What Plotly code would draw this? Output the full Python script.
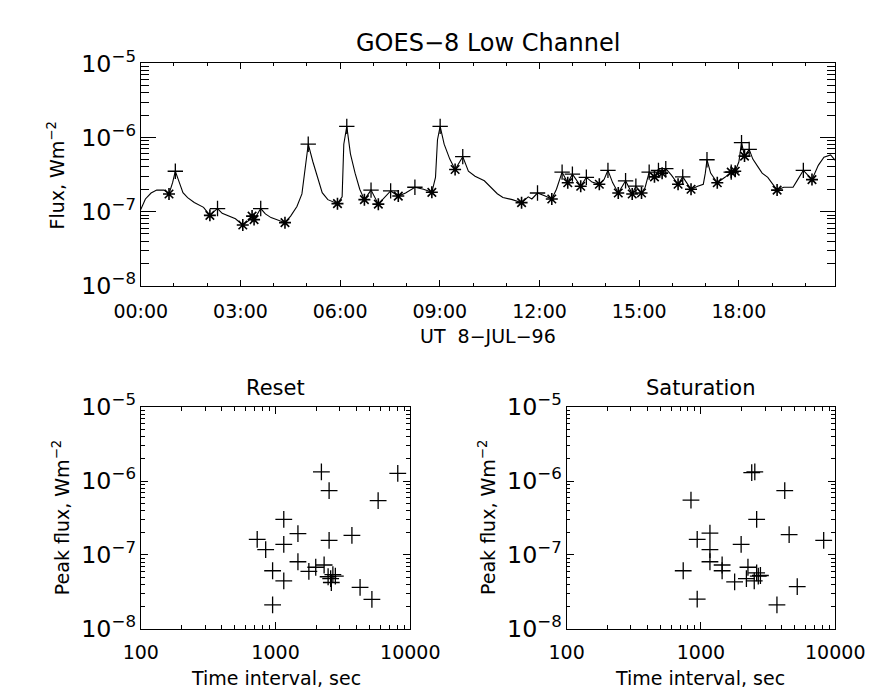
import pandas as pd
import plotly.graph_objects as go

# GOES-8 low channel light curve, 8-JUL-96 (hours UT, flux W m^-2)
curve_hours = [0.00, 0.14, 0.31, 0.48, 0.70, 0.85, 0.96, 1.04, 1.13, 1.27, 1.41, 1.61, 1.89, 2.08,
               2.20, 2.31, 2.45, 2.65, 2.85, 3.07, 3.24, 3.35, 3.41, 3.61, 3.75, 3.92, 4.08, 4.34,
               4.51, 4.70, 4.85, 4.93, 5.04, 5.18, 5.32, 5.46, 5.63, 5.92, 6.06, 6.11, 6.20, 6.31,
               6.45, 6.59, 6.73, 6.93, 7.15, 7.35, 7.52, 7.75, 7.97, 8.25, 8.51, 8.76, 8.87, 8.93,
               9.01, 9.13, 9.30, 9.46, 9.61, 9.69, 9.86, 10.06, 10.34, 10.54, 10.73, 10.90, 11.18,
               11.46, 11.66, 11.77, 11.94, 12.17, 12.37, 12.51, 12.68, 12.85, 12.99, 13.24, 13.41,
               13.58, 13.80, 13.94, 14.06, 14.20, 14.37, 14.59, 14.79, 14.90, 15.07, 15.18, 15.30,
               15.46, 15.58, 15.69, 15.80, 15.97, 16.17, 16.31, 16.56, 16.76, 16.93, 16.99, 17.04,
               17.15, 17.35, 17.58, 17.77, 17.89, 18.00, 18.08, 18.17, 18.31, 18.42, 18.56, 18.70,
               18.87, 19.01, 19.15, 19.35, 19.63, 19.77, 19.94, 20.20, 20.39, 20.56, 20.76, 20.90]
curve_flux = [1.07e-7, 1.48e-7, 1.78e-7, 1.95e-7, 1.95e-7, 1.73e-7, 2.47e-7, 3.5e-7, 2.7e-7, 1.8e-7,
              1.54e-7, 1.33e-7, 1.14e-7, 8.9e-8, 1.0e-7, 1.1e-7, 9.5e-8, 8.7e-8, 8.0e-8, 6.6e-8,
              7.5e-8, 8.7e-8, 7.8e-8, 1.1e-7, 9.3e-8, 8.3e-8, 7.8e-8, 7.1e-8, 8.7e-8, 1.17e-7,
              1.73e-7, 3.3e-7, 8.1e-7, 4.7e-7, 2.9e-7, 1.8e-7, 1.45e-7, 1.28e-7, 1.58e-7, 8.1e-7,
              1.41e-6, 6.0e-7, 3.3e-7, 2.0e-7, 1.45e-7, 1.95e-7, 1.26e-7, 1.58e-7, 1.9e-7, 1.62e-7,
              1.78e-7, 2.13e-7, 2.0e-7, 1.82e-7, 2.9e-7, 9.3e-7, 1.41e-6, 8.1e-7, 5.1e-7, 3.7e-7,
              4.7e-7, 5.5e-7, 3.5e-7, 3.0e-7, 2.6e-7, 2.1e-7, 1.74e-7, 1.55e-7, 1.45e-7, 1.32e-7,
              1.58e-7, 1.48e-7, 1.78e-7, 1.62e-7, 1.48e-7, 2.0e-7, 3.4e-7, 2.45e-7, 3.2e-7, 2.2e-7,
              2.9e-7, 2.5e-7, 2.34e-7, 2.7e-7, 3.6e-7, 2.46e-7, 1.78e-7, 2.6e-7, 1.73e-7, 2.2e-7,
              1.78e-7, 2.13e-7, 3.4e-7, 2.94e-7, 3.6e-7, 3.3e-7, 3.8e-7, 3.1e-7, 2.34e-7, 2.94e-7,
              2.0e-7, 2.2e-7, 2.34e-7, 3.3e-7, 5.0e-7, 3.3e-7, 2.45e-7, 2.9e-7, 3.4e-7, 3.5e-7,
              4.7e-7, 8.5e-7, 5.6e-7, 6.9e-7, 5.1e-7, 4.1e-7, 3.3e-7, 2.9e-7, 2.34e-7, 1.95e-7,
              2.13e-7, 2.13e-7, 2.7e-7, 3.6e-7, 2.7e-7, 4.2e-7, 5.4e-7, 5.8e-7, 4.9e-7]

# flare peaks (+) and flare starts (*)
peak_hours = [1.04, 2.31, 3.61, 5.04, 6.20, 6.93, 7.52, 8.25, 9.01, 9.69, 11.94, 12.68, 12.99, 13.41,
              14.06, 14.59, 14.90, 15.30, 15.58, 15.80, 16.31, 17.04, 17.77, 18.08, 18.31, 19.94]
peak_flux = [3.5e-7, 1.1e-7, 1.1e-7, 8.1e-7, 1.41e-6, 1.95e-7, 1.9e-7, 2.13e-7, 1.41e-6, 5.5e-7,
             1.78e-7, 3.4e-7, 3.2e-7, 2.9e-7, 3.6e-7, 2.6e-7, 2.2e-7, 3.4e-7, 3.6e-7, 3.8e-7,
             2.94e-7, 5.0e-7, 3.4e-7, 8.5e-7, 6.9e-7, 3.6e-7]
start_hours = [0.85, 2.08, 3.07, 3.35, 3.41, 4.34, 5.92, 6.73, 7.15, 7.75, 8.76, 9.46, 11.46, 12.37,
               12.85, 13.24, 13.80, 14.37, 14.79, 15.07, 15.46, 15.69, 16.17, 16.56, 17.35, 17.77,
               17.89, 18.17, 19.15, 20.20]
start_flux = [1.73e-7, 8.9e-8, 6.6e-8, 8.7e-8, 7.8e-8, 7.1e-8, 1.28e-7, 1.45e-7, 1.26e-7, 1.62e-7,
              1.82e-7, 3.7e-7, 1.32e-7, 1.48e-7, 2.45e-7, 2.2e-7, 2.34e-7, 1.78e-7, 1.73e-7, 1.78e-7,
              2.94e-7, 3.3e-7, 2.34e-7, 2.0e-7, 2.45e-7, 3.4e-7, 3.5e-7, 5.6e-7, 1.95e-7, 2.7e-7]

# peak flux vs time interval (sec)
reset_interval = [731, 845, 951, 951, 1151, 1151, 1151, 1466, 1466, 1767, 1987, 2189, 2293, 2497,
                  2497, 2455, 2565, 2594, 2663, 2779, 3687, 4238, 5188, 5770, 8070]
reset_flux = [1.62e-7, 1.18e-7, 6.1e-8, 2.1e-8, 3.03e-7, 1.39e-7, 4.45e-8, 1.94e-7, 8.07e-8, 5.98e-8,
              6.8e-8, 1.33e-6, 7.3e-8, 7.4e-7, 1.57e-7, 5.06e-8, 4.76e-8, 4.23e-8, 5.42e-8, 5.16e-8,
              1.84e-7, 3.64e-8, 2.5e-8, 5.43e-7, 1.27e-6]
sat_interval = [738, 843, 938, 938, 1167, 1167, 1167, 1438, 1438, 1782, 1992, 2239, 2181, 2389,
                2518, 2494, 2600, 2600, 2673, 2773, 3681, 4207, 4536, 5213, 8203]
sat_flux = [6.1e-8, 5.5e-7, 1.62e-7, 2.52e-8, 1.97e-7, 1.18e-7, 8.07e-8, 7.3e-8, 6.1e-8, 4.31e-8,
            1.39e-7, 6.8e-8, 4.76e-8, 1.30e-6, 1.33e-6, 4.45e-8, 3.03e-7, 5.7e-8, 5.16e-8, 5.26e-8,
            2.1e-8, 7.4e-7, 1.88e-7, 3.72e-8, 1.57e-7]

interval_ticks = [100, 1000, 10000]
interval_labels = ["100", "1000", "10000"]

day = pd.Timestamp("1996-07-08")


def to_time(hours):
    return day + pd.to_timedelta(hours, unit="h")


FONT = "DejaVu Sans"
W, H = 890, 694


def px_x(v):
    return v / W


def px_y(v):
    return 1 - v / H


fig = go.Figure()
fig.add_trace(go.Scatter(x=to_time(curve_hours), y=curve_flux, mode="lines",
                         line=dict(color="black", width=1.1), xaxis="x", yaxis="y"))
fig.add_trace(go.Scatter(x=to_time(peak_hours), y=peak_flux, mode="markers", xaxis="x", yaxis="y",
                         marker=dict(symbol="cross-thin", size=11, line=dict(width=1.3, color="black"))))
fig.add_trace(go.Scatter(x=to_time(start_hours), y=start_flux, mode="markers", xaxis="x", yaxis="y",
                         marker=dict(symbol="asterisk", size=10, line=dict(width=1.6, color="black"))))
fig.add_trace(go.Scatter(x=reset_interval, y=reset_flux, mode="markers", xaxis="x2", yaxis="y2",
                         marker=dict(symbol="cross-thin", size=12, line=dict(width=1.3, color="black"))))
fig.add_trace(go.Scatter(x=sat_interval, y=sat_flux, mode="markers", xaxis="x3", yaxis="y3",
                         marker=dict(symbol="cross-thin", size=12, line=dict(width=1.3, color="black"))))

tickfont = dict(family=FONT, size=19, color="black")
common = dict(showline=True, linecolor="black", linewidth=1, mirror="ticks", ticks="inside",
              tickcolor="black", showgrid=False, zeroline=False, tickfont=tickfont)


def flux_axis(domain, ticklen):
    return dict(common, type="log", range=[-8, -5], domain=domain, tickmode="linear", tick0=0, dtick=1,
                exponentformat="power", ticklen=ticklen,
                minor=dict(ticks="inside", dtick="D1", ticklen=ticklen * 0.55, tickcolor="black", showgrid=False))


def interval_axis(domain):
    return dict(common, type="log", range=[2, 4], domain=domain, tickmode="array",
                tickvals=interval_ticks, ticktext=interval_labels, ticklen=7, ticklabelstandoff=6,
                minor=dict(ticks="inside", dtick="D1", ticklen=4, tickcolor="black", showgrid=False))


top_y = [px_y(273), px_y(40)]
bot_y = [px_y(632), px_y(400)]

fig.update_layout(
    width=W, height=H, margin=dict(l=0, r=0, t=0, b=0),
    paper_bgcolor="white", plot_bgcolor="white", showlegend=False,
    xaxis=dict(common, type="date", domain=[px_x(113), px_x(855)],
               range=[to_time(0.0), to_time(20.9)], tickformat="%H:%M",
               tick0=to_time(0.0), dtick=3 * 3600000, ticklen=6, ticklabelstandoff=8,
               minor=dict(ticks="inside", dtick=3600000, ticklen=3, tickcolor="black", showgrid=False),
               anchor="y"),
    yaxis=flux_axis(top_y, 15) | dict(anchor="x"),
    xaxis2=interval_axis([px_x(113), px_x(401)]) | dict(anchor="y2"),
    yaxis2=flux_axis(bot_y, 7) | dict(anchor="x2"),
    xaxis3=interval_axis([px_x(568), px_x(855)]) | dict(anchor="y3"),
    yaxis3=flux_axis(bot_y, 7) | dict(anchor="x3"),
)

labels = [
    ("GOES−8 Low Channel", 484, 19, 24, 0),
    ("UT  8−JUL−96", 484, 326, 19, 0),
    ("Reset", 257, 380, 21, 0),
    ("Saturation", 711, 380, 21, 0),
    ("Time interval, sec", 257, 684, 19, 0),
    ("Time interval, sec", 711, 684, 19, 0),
    ("Flux, Wm<sup>−2</sup>", 22, 158, 19, -90),
    ("Peak flux, Wm<sup>−2</sup>", 28, 516, 19, -90),
    ("Peak flux, Wm<sup>−2</sup>", 483, 516, 19, -90),
]
for text, x, y, size, angle in labels:
    fig.add_annotation(text=text, x=px_x(x), y=px_y(y), xref="paper", yref="paper",
                       showarrow=False, textangle=angle, xanchor="center", yanchor="middle",
                       font=dict(family=FONT, size=size, color="black"))

fig.write_html("out.html")
